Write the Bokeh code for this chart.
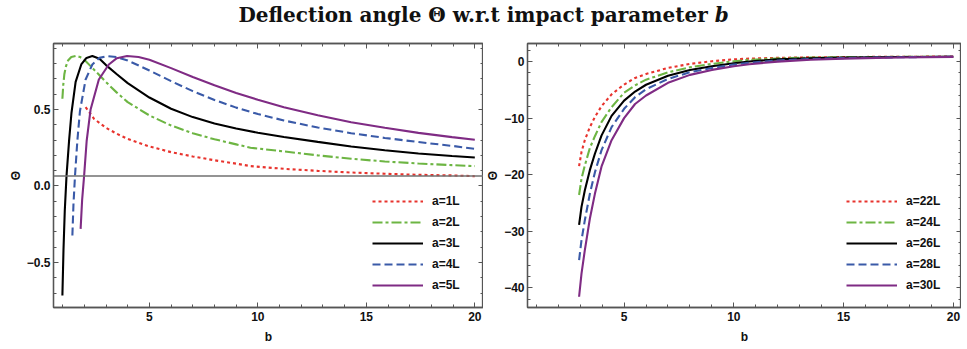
from bokeh.plotting import figure
from bokeh.models import (Span, Legend, LegendItem, LinearAxis, SingleIntervalTicker,
                          CustomJSTickFormatter, Range1d, Div)
from bokeh.layouts import column, row
from bokeh.embed import file_html
from bokeh.resources import INLINE

# ---------------- data: left panel (a = 1L .. 5L) ----------------
left_labels = ["a=1L", "a=2L", "a=3L", "a=4L", "a=5L"]

b_a1 = [2.06, 2.45, 3.0, 3.5, 4.0, 5.0, 6.0, 7.0, 8.0, 9.0, 9.66, 11.2, 12.76, 14.3, 15.85, 17.4, 18.95, 20.0]
th_a1 = [0.515, 0.439, 0.38, 0.341, 0.308, 0.258, 0.221, 0.193, 0.168, 0.146, 0.13, 0.112, 0.099, 0.088, 0.080, 0.073, 0.069, 0.064]

b_a2 = [0.99, 1.03, 1.08, 1.15, 1.25, 1.4, 1.6, 1.8, 2.0, 2.45, 3.0, 3.5, 4.0, 5.0, 6.0, 7.0, 8.0, 9.0, 9.66, 11.2, 12.76, 14.3, 15.85, 17.4, 18.95, 20.0]
th_a2 = [0.57, 0.66, 0.73, 0.78, 0.82, 0.843, 0.849, 0.843, 0.825, 0.76, 0.679, 0.61, 0.548, 0.461, 0.395, 0.345, 0.305, 0.272, 0.25, 0.226, 0.2, 0.178, 0.16, 0.147, 0.136, 0.13]

b_a3 = [0.99, 1.04, 1.10, 1.18, 1.30, 1.41, 1.60, 1.86, 2.1, 2.37, 2.7, 3.0, 3.5, 4.0, 5.0, 6.0, 7.0, 8.0, 9.0, 10.0, 11.2, 12.76, 14.3, 15.85, 17.4, 18.95, 20.0]
th_a3 = [-0.716, -0.42, -0.16, 0.066, 0.30, 0.48, 0.68, 0.794, 0.837, 0.849, 0.832, 0.79, 0.73, 0.672, 0.578, 0.505, 0.45, 0.408, 0.375, 0.348, 0.32, 0.288, 0.258, 0.233, 0.212, 0.196, 0.186]

b_a4 = [1.45, 1.50, 1.57, 1.68, 1.80, 2.06, 2.37, 2.7, 3.06, 3.5, 4.0, 5.0, 6.0, 7.0, 8.0, 9.0, 10.0, 11.2, 12.76, 14.3, 15.85, 17.4, 18.95, 20.0]
th_a4 = [-0.323, -0.12, 0.064, 0.297, 0.49, 0.696, 0.794, 0.837, 0.849, 0.842, 0.82, 0.755, 0.685, 0.62, 0.562, 0.512, 0.47, 0.428, 0.382, 0.345, 0.314, 0.287, 0.262, 0.243]

b_a5 = [1.83, 1.9, 1.99, 2.11, 2.29, 2.67, 3.13, 3.5, 3.97, 4.5, 5.0, 6.0, 7.0, 8.0, 9.0, 10.0, 11.2, 12.76, 14.3, 15.85, 17.4, 18.95, 20.0]
th_a5 = [-0.28, -0.09, 0.064, 0.297, 0.5, 0.696, 0.794, 0.835, 0.849, 0.843, 0.825, 0.77, 0.712, 0.658, 0.608, 0.563, 0.515, 0.462, 0.417, 0.38, 0.347, 0.319, 0.302]

left_hline = 0.065

# ---------------- data: right panel (a = 22L .. 30L) ----------------
right_labels = ["a=22L", "a=24L", "a=26L", "a=28L", "a=30L"]
b_right = [2.95, 3.06, 3.21, 3.44, 3.67, 3.97, 4.43, 5.0, 5.5, 6.0, 7.0, 8.0, 9.0, 10.0, 10.7, 12.0, 13.5, 15.0, 17.5, 20.0]
th_a22 = [-18.5, -16.0, -13.9, -11.6, -9.8, -7.9, -5.8, -4.06, -2.9, -2.2, -1.12, -0.41, 0.06, 0.40, 0.52, 0.66, 0.75, 0.80, 0.86, 0.88]
th_a24 = [-23.6, -20.7, -18.4, -15.3, -13.2, -10.7, -8.06, -5.5, -4.2, -3.2, -1.9, -1.0, -0.41, 0.06, 0.32, 0.56, 0.70, 0.78, 0.84, 0.87]
th_a26 = [-28.9, -25.7, -22.8, -19.2, -16.3, -13.1, -9.6, -6.9, -5.3, -4.1, -2.5, -1.5, -0.82, -0.29, 0.02, 0.40, 0.60, 0.70, 0.80, 0.86]
th_a28 = [-35.1, -31.6, -28.1, -23.4, -19.6, -15.7, -11.6, -8.35, -6.3, -4.9, -3.06, -1.88, -1.12, -0.53, -0.20, 0.20, 0.45, 0.62, 0.77, 0.85]
th_a30 = [-41.6, -37.5, -33.4, -27.8, -23.4, -18.6, -13.9, -10.0, -7.5, -6.0, -3.76, -2.35, -1.47, -0.82, -0.47, 0.0, 0.32, 0.52, 0.72, 0.84]

# ---------------- styles ----------------
styles = [
    dict(color="#e8332d", dash="3 3"),
    dict(color="#6db543", dash="10 3 3 3"),
    dict(color="#000000", dash="solid"),
    dict(color="#3a5aa8", dash="8 4"),
    dict(color="#7f2b84", dash="solid"),
]
FRAME = "#555555"
TICK_FONT = "Liberation Sans"


def style_axis(ax, show_labels=True, fmt=None, label_standoff=1):
    ax.axis_line_color = FRAME
    ax.axis_line_width = 1.3
    ax.major_tick_line_color = FRAME
    ax.minor_tick_line_color = FRAME
    ax.major_tick_in = 5
    ax.major_tick_out = 0
    ax.minor_tick_in = 3
    ax.minor_tick_out = 0
    ax.major_label_text_font = TICK_FONT
    ax.major_label_text_font_style = "bold"
    ax.major_label_text_font_size = "12px"
    ax.major_label_text_color = "#111111"
    ax.major_label_standoff = 4
    ax.axis_label_text_font = TICK_FONT
    ax.axis_label_text_font_style = "bold"
    ax.axis_label_text_font_size = "12px"
    ax.axis_label_text_color = "#111111"
    ax.axis_label_standoff = label_standoff
    if fmt is not None:
        ax.formatter = fmt
    if not show_labels:
        ax.formatter = CustomJSTickFormatter(code="return ''")
        ax.major_label_standoff = 0
        ax.axis_label_standoff = 0
        ax.major_label_text_font_size = "0px"
        ax.axis_label_text_font_size = "0px"


def make_panel(xr, yr, xtick, ytick, yfmt, series_b, series_th, labels, width,
               bl, br, bt, hline=None):
    p = figure(width=width, height=319, output_backend="svg", toolbar_location=None,
               x_range=Range1d(*xr), y_range=Range1d(*yr),
               min_border_left=bl, min_border_right=br, min_border_top=bt,
               min_border_bottom=42)
    p.xgrid.visible = False
    p.ygrid.visible = False
    p.outline_line_color = FRAME
    p.outline_line_width = 1.3
    p.background_fill_color = "white"

    xfmt = CustomJSTickFormatter(code="return tick.toFixed(0)")
    p.xaxis.ticker = SingleIntervalTicker(interval=xtick[0], num_minor_ticks=xtick[1])
    p.yaxis.ticker = SingleIntervalTicker(interval=ytick[0], num_minor_ticks=ytick[1])
    p.xaxis.axis_label = "b"
    p.yaxis.axis_label = "\u0398"
    for ax in p.xaxis:
        style_axis(ax, True, xfmt, label_standoff=6)
    for ax in p.yaxis:
        style_axis(ax, True, yfmt, label_standoff=1)
        ax.major_label_standoff = 3

    top = LinearAxis(ticker=SingleIntervalTicker(interval=xtick[0], num_minor_ticks=xtick[1]))
    style_axis(top, False)
    p.add_layout(top, "above")
    right = LinearAxis(ticker=SingleIntervalTicker(interval=ytick[0], num_minor_ticks=ytick[1]))
    style_axis(right, False)
    p.add_layout(right, "right")

    if hline is not None:
        p.add_layout(Span(location=hline, dimension="width", line_color="#707070",
                          line_width=1.4))

    items = []
    for bs, ths, lab, st in zip(series_b, series_th, labels, styles):
        r = p.line(bs, ths, line_color=st["color"], line_width=2.1, line_dash=st["dash"])
        items.append(LegendItem(label=lab, renderers=[r]))

    leg = Legend(items=items, location=(319, 12), glyph_width=51, glyph_height=20,
                 label_height=20, spacing=1, padding=0, margin=0, label_standoff=9,
                 border_line_color=None, background_fill_alpha=0,
                 label_text_font=TICK_FONT, label_text_font_style="bold",
                 label_text_font_size="12px", label_text_color="#111111")
    p.add_layout(leg)
    return p


p1 = make_panel((0.58, 20.4), (-0.794, 0.931), (5, 5), (0.5, 5),
                CustomJSTickFormatter(code="return tick.toFixed(1).replace('-', '\u2212')"),
                [b_a1, b_a2, b_a3, b_a4, b_a5], [th_a1, th_a2, th_a3, th_a4, th_a5],
                left_labels, width=483, bl=53, br=0, bt=13, hline=left_hline)

p2 = make_panel((0.6, 20.37), (-43.5, 3.2), (5, 5), (10, 5),
                CustomJSTickFormatter(code="return tick.toFixed(0).replace('-', '\u2212')"),
                [b_right] * 5, [th_a22, th_a24, th_a26, th_a28, th_a30],
                right_labels, width=478, bl=38, br=0, bt=11)

title = Div(text="Deflection angle \u0398 w.r.t impact parameter <i>b</i>",
            width=967, height=30, margin=(0, 0, 0, 0),
            width_policy="fixed", height_policy="fixed",
            styles={"text-align": "center", "width": "967px", "height": "30px",
                    "font-family": "DejaVu Serif", "font-weight": "bold",
                    "font-size": "20px", "line-height": "30px", "color": "#111111"})

layout = column(title, row(p1, p2, spacing=0), spacing=0)

open("out.html", "w").write(file_html(layout, INLINE))
